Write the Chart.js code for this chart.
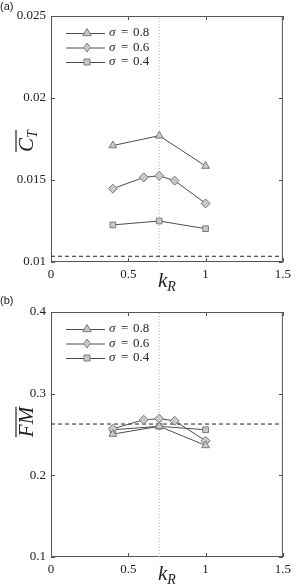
<!DOCTYPE html>
<html>
<head>
<meta charset="utf-8">
<script src="https://cdn.jsdelivr.net/npm/chart.js@4/dist/chart.umd.min.js"></script>
<style>
html,body{margin:0;padding:0;background:#fff;}
canvas{display:block;}
</style>
</head>
<body>
<canvas id="c1" width="296" height="294"></canvas>
<canvas id="c2" width="296" height="293"></canvas>
<script>
// ---- data ----
const kR3 = [0.4, 0.7, 1.0];
const kR5 = [0.4, 0.6, 0.7, 0.8, 1.0];
const seriesLabels = ['σ = 0.8', 'σ = 0.6', 'σ = 0.4'];
const ctSigma08 = [0.0171, 0.0177, 0.01585];
const ctSigma06 = [0.01447, 0.01516, 0.01526, 0.01496, 0.01357];
const ctSigma04 = [0.01226, 0.0125, 0.01203];
const ctRef = 0.01035;
const fmSigma08 = [0.2505, 0.2600, 0.2366];
const fmSigma06 = [0.2570, 0.2680, 0.2693, 0.2668, 0.2423];
const fmSigma04 = [0.2558, 0.2600, 0.2558];
const fmRef = 0.2628;
const kOpt = 0.7;
const xTicks = [0, 0.5, 1, 1.5];
const xTickLabels = ['0', '0.5', '1', '1.5'];
const ctTicks = [0.01, 0.015, 0.02, 0.025];
const ctTickLabels = ['0.01', '0.015', '0.02', '0.025'];
const fmTicks = [0.1, 0.2, 0.3, 0.4];
const fmTickLabels = ['0.1', '0.2', '0.3', '0.4'];

const pts = (xs, ys) => xs.map((x, i) => ({x: x, y: ys[i]}));
const LINE = '#4d4d4d', MFILL = '#c9c9c9', MEDGE = '#7a7a7a', FRAME = '#555';
const SERIF = '"Liberation Serif", "DejaVu Serif", serif';

function seriesDs(label, xs, ys, style, r) {
  return {label: label, data: pts(xs, ys), showLine: true, borderColor: LINE, borderWidth: 1,
    pointStyle: style, pointRadius: r, pointBackgroundColor: MFILL, pointBorderColor: MEDGE,
    pointBorderWidth: 1, isSeries: true, order: 1};
}

function drawMarker(ctx, style, x, y, r) {
  ctx.save();
  ctx.fillStyle = MFILL; ctx.strokeStyle = MEDGE; ctx.lineWidth = 1;
  ctx.beginPath();
  if (style === 'triangle') {
    ctx.moveTo(x, y - r); ctx.lineTo(x + r * 0.95, y + r * 0.6); ctx.lineTo(x - r * 0.95, y + r * 0.6); ctx.closePath();
  } else if (style === 'rectRot') {
    ctx.moveTo(x, y - r); ctx.lineTo(x + r * 0.75, y); ctx.lineTo(x, y + r); ctx.lineTo(x - r * 0.75, y); ctx.closePath();
  } else {
    const s = r * 0.75; ctx.rect(x - s, y - s, 2 * s, 2 * s);
  }
  ctx.fill(); ctx.stroke();
  ctx.restore();
}

const framePlugin = {
  id: 'frame',
  beforeDatasetsDraw(chart) {
    const {ctx, chartArea: a, scales} = chart;
    ctx.save();
    ctx.strokeStyle = FRAME; ctx.lineWidth = 1;
    ctx.strokeRect(a.left + 0.5, a.top + 0.5, a.right - a.left - 1, a.bottom - a.top - 1);
    const L = 4;
    ctx.beginPath();
    scales.x.ticks.forEach(t => {
      const px = Math.round(scales.x.getPixelForValue(t.value)) + 0.5;
      ctx.moveTo(px, a.bottom); ctx.lineTo(px, a.bottom - L);
      ctx.moveTo(px, a.top); ctx.lineTo(px, a.top + L);
    });
    scales.y.ticks.forEach(t => {
      const py = Math.round(scales.y.getPixelForValue(t.value)) + 0.5;
      ctx.moveTo(a.left, py); ctx.lineTo(a.left + L, py);
      ctx.moveTo(a.right, py); ctx.lineTo(a.right - L, py);
    });
    ctx.stroke();
    ctx.restore();
  },
  afterDraw(chart) {
    const {ctx, chartArea: a} = chart;
    const o = chart.options.plugins.frame;
    ctx.save();
    // panel letter
    ctx.fillStyle = '#222'; ctx.font = '11px "Liberation Sans", Arial, sans-serif';
    ctx.textBaseline = 'alphabetic'; ctx.textAlign = 'left';
    ctx.fillText(o.panel, 0, 10);
    // legend
    const series = chart.data.datasets.filter(d => d.isSeries);
    series.forEach((d, i) => {
      const y = a.top + 17 + i * 14.5;
      ctx.strokeStyle = LINE; ctx.lineWidth = 1;
      ctx.beginPath(); ctx.moveTo(a.left + 15, y + 0.5); ctx.lineTo(a.left + 54, y + 0.5); ctx.stroke();
      drawMarker(ctx, d.pointStyle, a.left + 36, y, d.pointRadius);
      ctx.fillStyle = '#222'; ctx.textBaseline = 'middle';
      const parts = d.label.split(' ');
      ctx.font = 'italic 13px ' + SERIF;
      ctx.fillText(parts[0], a.left + 58, y);
      ctx.font = '13px ' + SERIF;
      ctx.fillText(parts[1], a.left + 70, y);
      ctx.fillText(parts[2], a.left + 82, y);
    });
    // x title k_R
    ctx.fillStyle = '#222'; ctx.textBaseline = 'alphabetic';
    const cx = (a.left + a.right) / 2;
    ctx.font = 'italic 21px ' + SERIF;
    const kw = ctx.measureText('k').width;
    ctx.font = 'italic 14px ' + SERIF;
    const rw = ctx.measureText('R').width;
    const x0 = cx - (kw + rw) / 2;
    ctx.font = 'italic 21px ' + SERIF;
    ctx.fillText('k', x0, o.xTitleY);
    ctx.font = 'italic 14px ' + SERIF;
    ctx.fillText('R', x0 + kw, o.xTitleY + 4);
    // y title
    ctx.save();
    ctx.translate(o.yTitleX, o.yTitleCY);
    ctx.rotate(-Math.PI / 2);
    ctx.font = 'italic 21px ' + SERIF;
    const mw = ctx.measureText(o.yMain).width;
    ctx.font = 'italic 14px ' + SERIF;
    const sw = o.ySub ? ctx.measureText(o.ySub).width : 0;
    const sx = -(mw + sw) / 2;
    ctx.font = 'italic 21px ' + SERIF;
    ctx.fillText(o.yMain, sx, 0);
    if (o.ySub) { ctx.font = 'italic 14px ' + SERIF; ctx.fillText(o.ySub, sx + mw, 4); }
    ctx.strokeStyle = '#222'; ctx.lineWidth = 1.2;
    ctx.beginPath(); ctx.moveTo(sx, -17); ctx.lineTo(sx + mw + sw, -17); ctx.stroke();
    ctx.restore();
    ctx.restore();
  }
};

function makeChart(id, H, areaTop, areaBottom, datasets, yMin, yMax, yTicks, yLabels, extra) {
  const ctx = document.getElementById(id).getContext('2d');
  return new Chart(ctx, {
    type: 'scatter',
    data: {datasets: datasets},
    options: {
      responsive: false, animation: false, devicePixelRatio: 1,
      layout: {padding: {left: 0, right: 11, top: areaTop, bottom: 0}},
      plugins: {legend: {display: false}, tooltip: {enabled: false}, frame: extra},
      scales: {
        x: {
          type: 'linear', min: 0, max: 1.5,
          afterBuildTicks: s => { s.ticks = xTicks.map(v => ({value: v})); },
          afterFit: s => { s.height = H - areaBottom; },
          grid: {display: false, drawTicks: false}, border: {display: false},
          ticks: {padding: 5, color: '#222', font: {family: SERIF, size: 13},
            callback: (v) => xTickLabels[xTicks.indexOf(v)]}
        },
        y: {
          type: 'linear', min: yMin, max: yMax,
          afterBuildTicks: s => { s.ticks = yTicks.map(v => ({value: v})); },
          afterFit: s => { s.width = 51; },
          grid: {display: false, drawTicks: false}, border: {display: false},
          ticks: {padding: 5, color: '#222', font: {family: SERIF, size: 13},
            callback: (v) => yLabels[yTicks.indexOf(v)]}
        }
      }
    },
    plugins: [framePlugin]
  });
}

function refLines(yMin, yMax, ref) {
  return [
    {label: 'kopt', data: [{x: kOpt, y: yMin}, {x: kOpt, y: yMax}], showLine: true, borderColor: '#b5b5b5',
      borderWidth: 1, borderDash: [1, 2], pointRadius: 0, order: 3},
    {label: 'ref', data: [{x: 0, y: ref}, {x: 1.5, y: ref}], showLine: true, borderColor: '#222',
      borderWidth: 1, borderDash: [4, 3], pointRadius: 0, order: 2}
  ];
}

makeChart('c1', 294, 16, 262, [
  seriesDs(seriesLabels[0], kR3, ctSigma08, 'triangle', 4.5),
  seriesDs(seriesLabels[1], kR5, ctSigma06, 'rectRot', 4.5),
  seriesDs(seriesLabels[2], kR3, ctSigma04, 'rect', 4),
  ...refLines(0.01, 0.025, ctRef)
], 0.01, 0.025, ctTicks, ctTickLabels,
{panel: '(a)', xTitleY: 287, yTitleX: 33, yTitleCY: 141, yMain: 'C', ySub: 'T'});

makeChart('c2', 293, 18, 263, [
  seriesDs(seriesLabels[0], kR3, fmSigma08, 'triangle', 4.5),
  seriesDs(seriesLabels[1], kR5, fmSigma06, 'rectRot', 4.5),
  seriesDs(seriesLabels[2], kR3, fmSigma04, 'rect', 4),
  ...refLines(0.1, 0.4, fmRef)
], 0.1, 0.4, fmTicks, fmTickLabels,
{panel: '(b)', xTitleY: 286, yTitleX: 33, yTitleCY: 128, yMain: 'FM', ySub: ''});
</script>
</body>
</html>
